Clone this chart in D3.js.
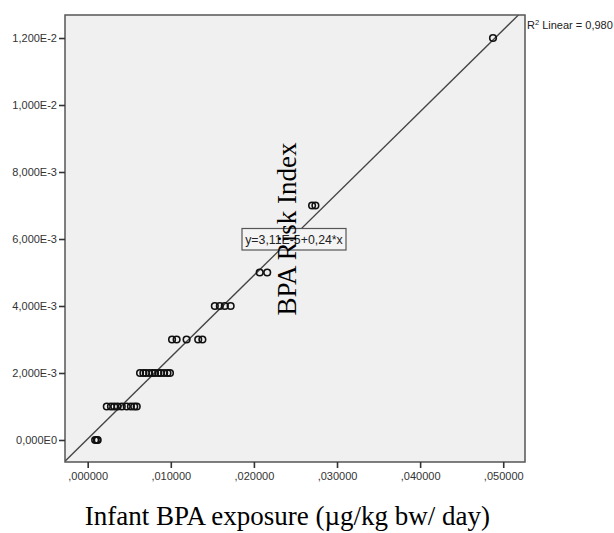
<!DOCTYPE html>
<html><head><meta charset="utf-8">
<script src="https://cdn.jsdelivr.net/npm/d3@7"></script>
<style>body{margin:0;background:#fff}</style>
</head><body>
<svg id="c" width="614" height="533"></svg>
<script>
// Data
const exposure = [0.0009,0.0011,0.0012,
  0.0023,0.0028,0.0032,0.0036,0.0041,0.0047,0.0052,0.0056,0.0059,
  0.0063,0.0067,0.0070,0.0074,0.0078,0.0081,0.0085,0.0088,0.0092,0.0096,0.0099,
  0.01015,0.0107,0.0119,0.0133,0.0138,
  0.0153,0.0159,0.0165,0.0172,
  0.0207,0.0216,
  0.0270,0.0274,
  0.04877];
const riskIndex = [0,0,0,
  0.001,0.001,0.001,0.001,0.001,0.001,0.001,0.001,0.001,
  0.002,0.002,0.002,0.002,0.002,0.002,0.002,0.002,0.002,0.002,0.002,
  0.003,0.003,0.003,0.003,0.003,
  0.004,0.004,0.004,0.004,
  0.005,0.005,
  0.007,0.007,
  0.012];
const xTicks = [0,0.01,0.02,0.03,0.04,0.05];
const xTickLabels = [",000000",",010000",",020000",",030000",",040000",",050000"];
const yTicks = [0,0.002,0.004,0.006,0.008,0.010,0.012];
const yTickLabels = ["0,000E0","2,000E-3","4,000E-3","6,000E-3","8,000E-3","1,000E-2","1,200E-2"];
const fitIntercept = 3.11e-5, fitSlope = 0.2442;
const eqText = "y=3,11E-5+0,24*x";
const r2Text = "Linear = 0,980";

const svg = d3.select("#c");
const L=65, R=525, T=15, B=462;
const x = d3.scaleLinear().domain([-0.00273,0.05262]).range([L,R]);
const y = d3.scaleLinear().domain([-0.000657,0.012687]).range([B,T]);

svg.append("rect").attr("x",L).attr("y",T).attr("width",R-L).attr("height",B-T)
  .attr("fill","#f0f0f0");

svg.append("clipPath").attr("id","clip").append("rect")
  .attr("x",L).attr("y",T).attr("width",R-L).attr("height",B-T);

// regression line
const x0 = x.domain()[0], x1 = x.domain()[1];
svg.append("line").attr("clip-path","url(#clip)")
  .attr("x1",x(x0)).attr("y1",y(fitIntercept+fitSlope*x0))
  .attr("x2",x(x1)).attr("y2",y(fitIntercept+fitSlope*x1))
  .attr("stroke","#444").attr("stroke-width",1.3);

// points
svg.append("g").selectAll("circle").data(exposure).join("circle")
  .attr("cx",d=>x(d)).attr("cy",(d,i)=>y(riskIndex[i])).attr("r",3.3)
  .attr("fill","none").attr("stroke","#111").attr("stroke-width",1.6);

// frame
svg.append("rect").attr("x",L).attr("y",T).attr("width",R-L).attr("height",B-T)
  .attr("fill","none").attr("stroke","#555").attr("stroke-width",1.5);

// axes
const xAxis = d3.axisBottom(x).tickValues(xTicks).tickSize(6).tickPadding(4)
  .tickFormat((d,i)=>xTickLabels[i]);
const gx = svg.append("g").attr("transform",`translate(0,${B})`).call(xAxis);
const yAxis = d3.axisLeft(y).tickValues(yTicks).tickSize(6).tickPadding(2)
  .tickFormat((d,i)=>yTickLabels[i]);
const gy = svg.append("g").attr("transform",`translate(${L},0)`).call(yAxis);
[gx,gy].forEach(g=>{
  g.select(".domain").remove();
  g.selectAll(".tick line").attr("stroke","#333").attr("stroke-width",1.6);
  g.selectAll(".tick text").attr("fill","#333").style("font-family","Liberation Sans, Arial, sans-serif").style("font-size","11px");
});

// R2 label
const r2 = svg.append("text").attr("x",527).attr("y",29)
  .style("font-family","Liberation Sans, Arial, sans-serif").style("font-size","11px").attr("fill","#222");
r2.append("tspan").text("R");
r2.append("tspan").attr("dy",-4).style("font-size","7.5px").text("2");
r2.append("tspan").attr("dy",4).text(" "+r2Text);

// equation box
svg.append("rect").attr("x",242).attr("y",228.5).attr("width",104).attr("height",21.5)
  .attr("fill","#f4f4f4").attr("stroke","#555").attr("stroke-width",1.2);
svg.append("text").attr("x",294).attr("y",244).attr("text-anchor","middle")
  .style("font-family","Liberation Sans, Arial, sans-serif").style("font-size","12.3px").attr("fill","#222")
  .text(eqText);

// y title (overlapping in plot)
svg.append("text").attr("transform","translate(296,229) rotate(-90)").attr("text-anchor","middle")
  .style("font-family","Liberation Serif, Times New Roman, serif").style("font-size","27px").attr("fill","#000")
  .text("BPA Risk Index");

// x title
svg.append("text").attr("x",490).attr("y",525).attr("text-anchor","end")
  .style("font-family","Liberation Serif, Times New Roman, serif").style("font-size","27px").attr("fill","#000")
  .text("Infant BPA exposure (µg/kg bw/ day)");
</script>
</body></html>
